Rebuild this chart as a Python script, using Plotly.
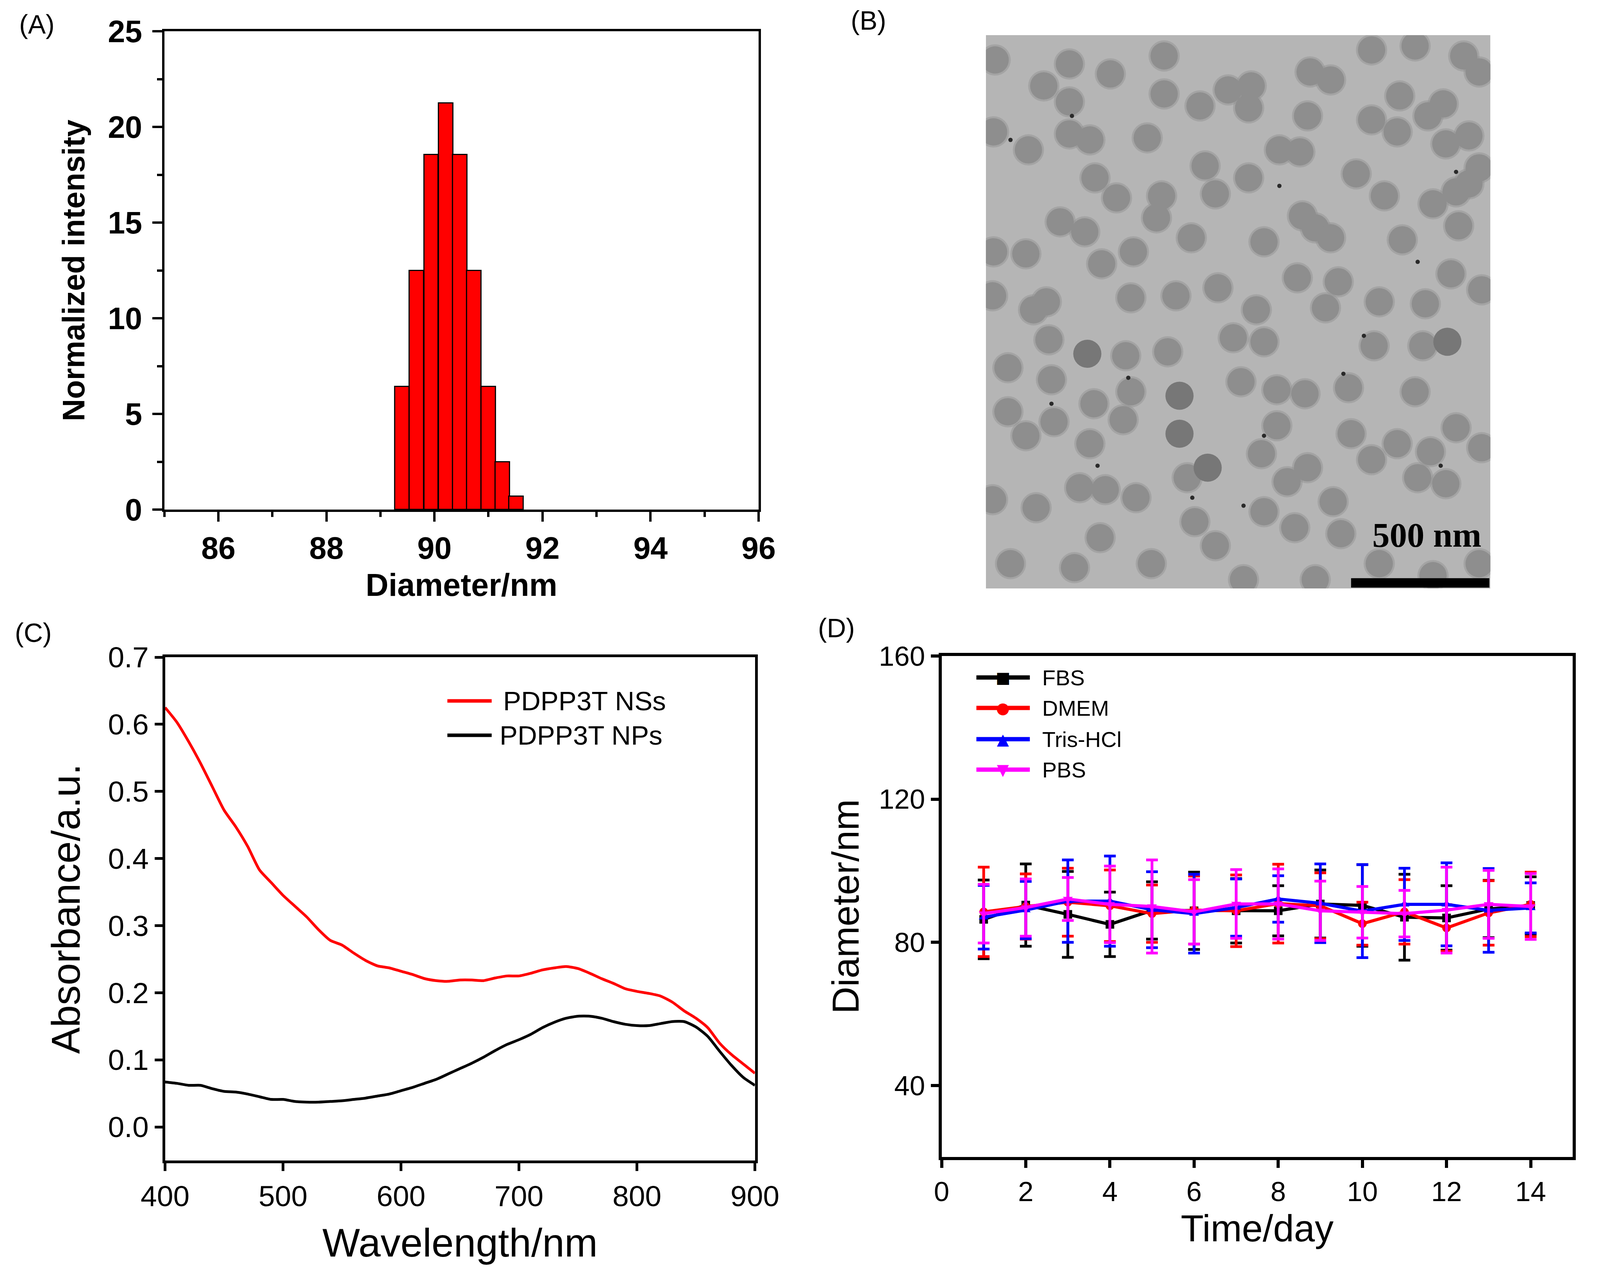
import plotly.graph_objects as go

# (A) DLS size distribution
dls_diameter = [89.40, 89.67, 89.94, 90.21, 90.47, 90.73, 91.00, 91.26, 91.51]
dls_intensity = [6.43, 12.48, 18.55, 21.24, 18.55, 12.48, 6.43, 2.50, 0.69]
bin_width = 0.265

# (B) TEM micrograph, particle centres read in micrograph pixel units
tem_x = [375, 470, 520, 520, 600, 705, 705, 775, 830, 875, 870, 990, 1030, 1110, 1195, 1290,
         1320, 1165, 1250, 1110, 1160, 1220, 985, 372, 520, 560, 672, 440, 930, 970, 1255, 1300,
         1320, 1300, 785, 805, 870, 1080, 1135, 570, 612, 700, 690, 1230, 1275, 975, 1000, 1030,
         502, 550, 758, 900, 1170, 1280, 435, 645, 583, 372, 965, 1045, 1265, 370, 475, 450,
         640, 728, 810, 885, 900, 840, 1020, 1125, 1215, 1325, 480, 630, 712, 1115, 1210,
         400, 485, 855, 925, 980, 1065, 1195, 568, 625, 640, 400, 435, 490, 560, 925, 895,
         1070, 1160, 1110, 1275, 1225, 1325, 750, 985, 945, 1200, 1255, 540, 590, 455, 650,
         1035, 370, 900, 765, 960, 805, 580, 680, 405, 530, 860, 1050, 1125, 1000, 1230, 1320]
tem_y = [150, 215, 160, 255, 185, 140, 235, 265, 225, 215, 270, 180, 200, 125, 115, 140,
         180, 240, 260, 300, 330, 290, 290, 330, 335, 350, 345, 375, 375, 380, 360, 340,
         420, 460, 415, 485, 445, 435, 490, 445, 495, 490, 545, 510, 480, 540, 570, 595,
         555, 580, 595, 605, 600, 565, 635, 630, 660, 630, 695, 705, 685, 740, 755, 775,
         745, 740, 720, 775, 855, 845, 770, 755, 760, 725, 850, 890, 880, 865, 865,
         920, 950, 955, 975, 985, 970, 980, 1010, 1050, 980, 1030, 1090, 1055, 1110, 1065, 1135,
         1085, 1110, 1150, 1070, 1130, 1120, 1195, 1170, 1205, 1195, 1210, 1220, 1225, 1270, 1245,
         1255, 1250, 1280, 1305, 1320, 1365, 1345, 1410, 1410, 1420, 1450, 1335, 1410, 1450, 1440, 1410]
tem_dark_x = [555, 1258, 735, 735, 790]
tem_dark_y = [885, 855, 990, 1085, 1170]
speck_x = [525, 405, 900, 485, 760, 575, 635, 1245, 1055, 930, 1200, 1275, 1095, 860]
speck_y = [290, 350, 1090, 1010, 1245, 1165, 945, 1165, 935, 465, 655, 430, 840, 1265]
scale_bar_units = 270  # 500 nm

# (C) UV-vis absorbance
wavelength = list(range(400, 901, 10))
abs_ns = [0.625, 0.603, 0.574, 0.542, 0.507, 0.472, 0.447, 0.418, 0.383, 0.364, 0.345,
          0.329, 0.313, 0.294, 0.278, 0.271, 0.259, 0.248, 0.240, 0.237, 0.232, 0.227,
          0.221, 0.218, 0.217, 0.219, 0.219, 0.218, 0.222, 0.225, 0.225, 0.229, 0.234,
          0.237, 0.239, 0.236, 0.229, 0.221, 0.214, 0.206, 0.202, 0.199, 0.195, 0.186,
          0.173, 0.162, 0.148, 0.125, 0.108, 0.094, 0.080]
abs_np = [0.067, 0.065, 0.062, 0.062, 0.057, 0.053, 0.052, 0.049, 0.045, 0.041, 0.041,
          0.038, 0.037, 0.037, 0.038, 0.039, 0.041, 0.043, 0.046, 0.049, 0.054, 0.059,
          0.065, 0.071, 0.079, 0.087, 0.095, 0.104, 0.114, 0.123, 0.130, 0.138, 0.148,
          0.156, 0.162, 0.165, 0.165, 0.162, 0.157, 0.153, 0.151, 0.151, 0.154, 0.157,
          0.157, 0.149, 0.135, 0.113, 0.092, 0.074, 0.062]

# (D) stability in media
days = list(range(1, 15))
fbs = [86.4, 90.4, 87.8, 85.0, 88.9, 88.8, 88.8, 88.8, 90.7, 90.3, 87.0, 86.8, 89.3, 90.3]
fbs_err = [11, 11.5, 12, 9, 8, 10.8, 9, 7, 9.5, 11.4, 12, 9, 8, 8]
dmem = [88.5, 90.0, 91.2, 90.2, 88.0, 89.0, 88.8, 90.8, 90.2, 85.2, 88.5, 84.0, 88.2, 90.6]
dmem_err = [12.5, 9.1, 9.5, 10, 8, 9.5, 10, 11, 9.2, 6, 9, 6.5, 9, 9]
tris = [87.0, 89.0, 91.5, 91.5, 89.1, 88.0, 89.7, 92.1, 90.9, 88.7, 90.6, 90.6, 88.9, 89.6]
tris_err = [8.9, 8, 11.5, 12.6, 10.6, 11, 8, 6.5, 11, 13, 10.1, 11.6, 11.7, 7]
pbs = [88.0, 89.7, 92.1, 90.6, 90.0, 88.5, 90.7, 90.7, 88.8, 88.4, 88.0, 89.0, 90.6, 90.0]
pbs_err = [8.2, 8, 6, 10.7, 13, 9, 9.6, 9.8, 8.3, 7.2, 6.5, 12, 9.5, 9.2]

# the browser only shows ~4090 css px of width, so the layout is squeezed to fit
REF_W, REF_H = 4364, 3255
SX = 4090 / REF_W
OFF = 8  # body margin
W, H = 4068, 3235
FS = 0.965  # font scale


def fx(x):
    return (x * SX - OFF) / W


def fy(y):
    return 1 - (y - OFF) / H


def dx(a, b):
    return [fx(a), fx(b)]


def dy(top, bottom):
    return [fy(bottom), fy(top)]


def f(s):
    return round(s * FS)


FONT = 'Liberation Sans, Arial, sans-serif'

fig = go.Figure()

# ---- (A)
fig.add_trace(go.Bar(
    x=dls_diameter, y=dls_intensity, width=bin_width,
    marker=dict(color='#ff0000', line=dict(color='black', width=3)),
    xaxis='x', yaxis='y', showlegend=False,
))

# ---- (B) soft-edged particles on a grey film
fig.add_trace(go.Scatter(
    x=tem_x, y=tem_y, mode='markers', xaxis='x2', yaxis='y2', showlegend=False,
    marker=dict(size=80, color='rgba(145,145,145,0.45)', line=dict(width=0)),
    hoverinfo='skip',
))
fig.add_trace(go.Scatter(
    x=tem_x, y=tem_y, mode='markers', xaxis='x2', yaxis='y2', showlegend=False,
    marker=dict(size=70, color='#8e8e8e', line=dict(width=0)),
))
fig.add_trace(go.Scatter(
    x=tem_dark_x, y=tem_dark_y, mode='markers', xaxis='x2', yaxis='y2', showlegend=False,
    marker=dict(size=72, color='#777777', line=dict(width=0)),
))
fig.add_trace(go.Scatter(
    x=speck_x, y=speck_y, mode='markers', xaxis='x2', yaxis='y2', showlegend=False,
    marker=dict(size=11, color='#2a2a2a', line=dict(width=0)),
))

# ---- (C)
fig.add_trace(go.Scatter(
    x=wavelength, y=abs_ns, mode='lines', name='PDPP3T NSs', showlegend=False,
    line=dict(color='#ff0000', width=7, shape='spline', smoothing=0.6),
    xaxis='x3', yaxis='y3',
))
fig.add_trace(go.Scatter(
    x=wavelength, y=abs_np, mode='lines', name='PDPP3T NPs', showlegend=False,
    line=dict(color='black', width=7, shape='spline', smoothing=0.6),
    xaxis='x3', yaxis='y3',
))

# ---- (D)
series = [
    ('FBS', fbs, fbs_err, 'black', 'square', '\u25a0'),
    ('DMEM', dmem, dmem_err, '#ff0000', 'circle', '\u25cf'),
    ('Tris-HCl', tris, tris_err, '#0000ff', 'triangle-up', '\u25b2'),
    ('PBS', pbs, pbs_err, '#ff00ff', 'triangle-down', '\u25bc'),
]
for name, vals, err, col, sym, _ in series:
    fig.add_trace(go.Scatter(
        x=days, y=vals, mode='lines+markers', name=name, showlegend=False,
        line=dict(color=col, width=8),
        marker=dict(symbol=sym, size=22, color=col),
        error_y=dict(type='data', array=err, color=col, thickness=7, width=15),
        xaxis='x4', yaxis='y4',
    ))

shapes = [
    dict(type='rect', xref='x2', yref='y2', x0=357, x1=1342, y0=88, y1=1472,
         fillcolor='#b5b5b5', line=dict(width=0), layer='below'),
    dict(type='line', xref='x2', yref='y2', x0=1340 - scale_bar_units, x1=1340,
         y0=1458, y1=1458, line=dict(color='black', width=24)),
]
annotations = [
    dict(text='500 nm', xref='x2', yref='y2', x=1218, y=1338, showarrow=False,
         font=dict(family='Liberation Serif, Times New Roman, serif', size=f(92),
                   color='black', weight='bold')),
]
for label, x, y in [('(A)', 50, 62), ('(B)', 2322, 52), ('(C)', 38, 1620), ('(D)', 2232, 1608)]:
    annotations.append(dict(text=label, xref='paper', yref='paper', x=fx(x), y=fy(y),
                            xanchor='left', yanchor='middle', showarrow=False,
                            font=dict(size=f(70))))

# legends drawn by hand to keep the long sample lines of the original
c_legend = [('PDPP3T NSs', '#ff0000', 1795, 1372), ('PDPP3T NPs', 'black', 1883, 1363)]
for name, col, yy, tx in c_legend:
    shapes.append(dict(type='line', xref='paper', yref='paper', x0=fx(1222), x1=fx(1343),
                       y0=fy(yy), y1=fy(yy), line=dict(color=col, width=9)))
    annotations.append(dict(text=name, xref='paper', yref='paper', x=fx(tx), y=fy(yy),
                            xanchor='left', yanchor='middle', showarrow=False,
                            font=dict(size=f(72))))

d_rows = [1735, 1813, 1893, 1971]
for (name, _, _, col, sym, glyph), yy in zip(series, d_rows):
    shapes.append(dict(type='line', xref='paper', yref='paper', x0=fx(2667), x1=fx(2813),
                       y0=fy(yy), y1=fy(yy), line=dict(color=col, width=11)))
    annotations.append(dict(text=glyph, xref='paper', yref='paper', x=fx(2740), y=fy(yy),
                            xanchor='center', yanchor='middle', showarrow=False,
                            font=dict(size=40, color=col, family='DejaVu Sans')))
    annotations.append(dict(text=name, xref='paper', yref='paper', x=fx(2845), y=fy(yy),
                            xanchor='left', yanchor='middle', showarrow=False,
                            font=dict(size=f(58))))

axis_common = dict(
    showline=True, mirror=True, linecolor='black', showgrid=False, zeroline=False,
    ticks='outside', tickcolor='black', automargin=False,
)

fig.update_layout(
    width=W, height=H,
    margin=dict(l=0, r=0, t=0, b=0, autoexpand=False),
    paper_bgcolor='white', plot_bgcolor='white',
    font=dict(family=FONT, color='black'),
    bargap=0,
    showlegend=False,
    xaxis=dict(
        **axis_common, domain=dx(449, 2072), anchor='y', range=[85, 96],
        tick0=86, dtick=2, ticklen=25, tickwidth=6, linewidth=6,
        tickfont=dict(size=f(82), family=FONT, weight='bold'),
        minor=dict(ticks='outside', dtick=1, tick0=85, ticklen=13, tickwidth=6, tickcolor='black'),
        title=dict(text='<b>Diameter/nm</b>', font=dict(size=f(84)), standoff=25),
    ),
    yaxis=dict(
        **axis_common, domain=dy(80, 1305), anchor='x', range=[0, 25],
        dtick=5, ticklen=25, tickwidth=6, linewidth=6, ticklabelstandoff=10,
        tickfont=dict(size=f(82), family=FONT, weight='bold'),
        minor=dict(ticks='outside', dtick=2.5, ticklen=13, tickwidth=6, tickcolor='black'),
        title=dict(text='<b>Normalized intensity</b>', font=dict(size=f(82)), standoff=35),
    ),
    xaxis2=dict(domain=dx(2693, 4071), anchor='y2', range=[357, 1342], automargin=False,
                showgrid=False, zeroline=False, showticklabels=False, ticks=''),
    yaxis2=dict(domain=dy(90, 1507), anchor='x2', range=[1472, 88], automargin=False,
                showgrid=False, zeroline=False, showticklabels=False, ticks=''),
    xaxis3=dict(
        **axis_common, domain=dx(451, 2062), anchor='y3', range=[400, 900],
        dtick=100, ticklen=20, tickwidth=7, linewidth=7,
        tickfont=dict(size=f(78)),
        title=dict(text='Wavelength/nm', font=dict(size=f(106)), standoff=45),
    ),
    yaxis3=dict(
        **axis_common, domain=dy(1683, 2972), anchor='x3', range=[-0.05, 0.7],
        tick0=0, dtick=0.1, tickformat='.1f', ticklen=20, tickwidth=7, linewidth=7,
        tickfont=dict(size=f(78)),
        title=dict(text='Absorbance/a.u.', font=dict(size=f(106)), standoff=40),
    ),
    xaxis4=dict(
        **axis_common, domain=dx(2572, 4296), anchor='y4', range=[0, 15],
        tick0=0, dtick=2, ticklen=20, tickwidth=8, linewidth=8,
        tickfont=dict(size=f(74)),
        title=dict(text='Time/day', font=dict(size=f(100)), standoff=25),
    ),
    yaxis4=dict(
        **axis_common, domain=dy(1680, 2963), anchor='x4', range=[20, 160],
        tick0=0, dtick=40, ticklen=20, tickwidth=8, linewidth=8,
        tickfont=dict(size=f(74)),
        title=dict(text='Diameter/nm', font=dict(size=f(100)), standoff=22),
    ),
    shapes=shapes,
    annotations=annotations,
)

fig.write_html("out.html")
